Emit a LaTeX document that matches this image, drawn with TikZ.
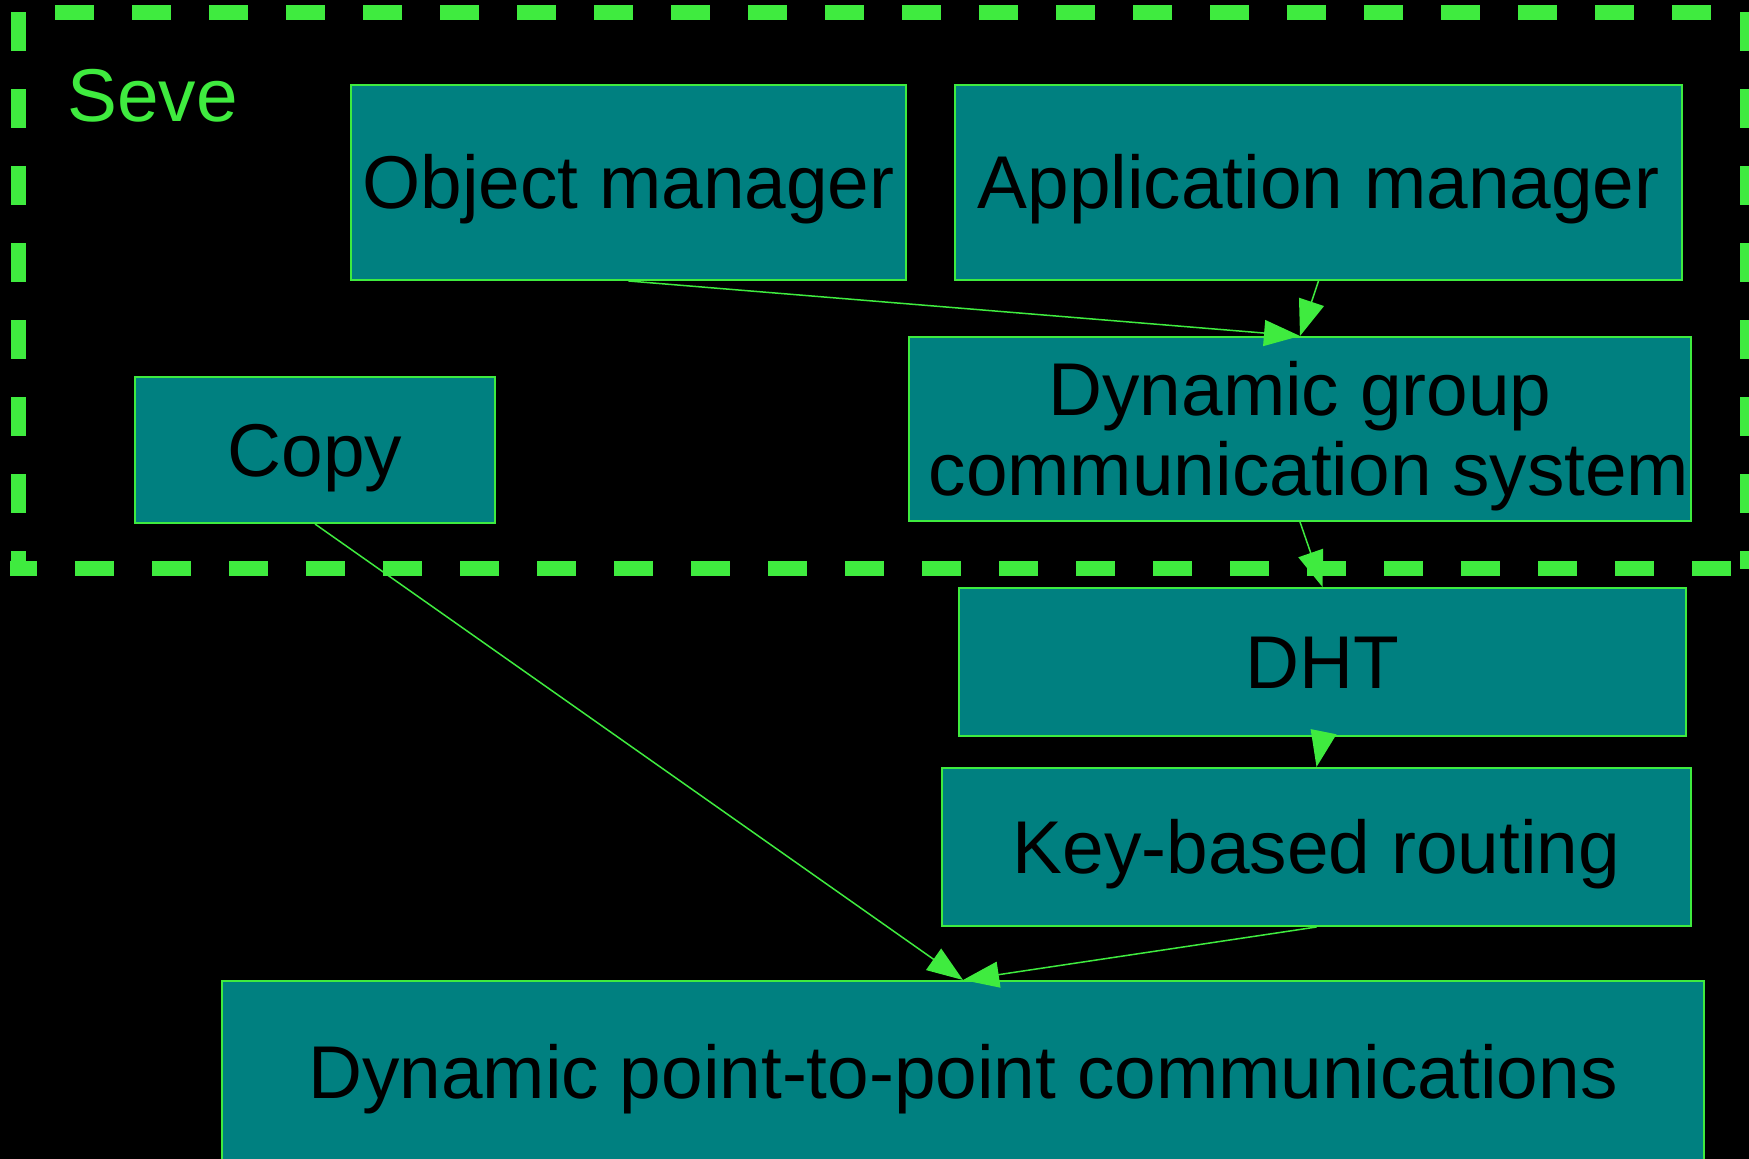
\documentclass[tikz,border=0pt]{standalone}
\usepackage{fontspec}
\setmainfont{Liberation Sans}
\usetikzlibrary{arrows.meta}
\definecolor{lime}{RGB}{63,235,63}
\definecolor{tealbox}{RGB}{0,128,128}

\begin{document}
\begin{tikzpicture}[x=0.5pt,y=-0.5pt,
  box/.style={draw=lime, line width=1pt, fill=tealbox, inner sep=0pt,
    text=black, font=\fontsize{37.4}{40}\selectfont, align=center,
    text height=26.2pt, text depth=0pt},
  link/.style={draw=lime, line width=0.75pt,
    -{Triangle[length=18pt,width=13pt,fill=lime]}},
  frame/.style={draw=lime, line width=7.5pt, dash pattern=on 19.5pt off 19pt}]

% canvas
\path[use as bounding box, clip] (0,0) rectangle (1749,1159);
\fill[black] (0,0) rectangle (1749,1159);

% dashed cluster outline
\draw[frame, dash phase=20pt] (18,12.5) -- (1747,12.5);
\draw[frame] (18,12.5) -- (18,569);
\draw[frame] (1747,12.5) -- (1747,569);
\draw[frame, dash phase=6pt] (10,569) -- (1747,569);

\node[anchor=base west, text=lime, inner sep=0pt, font=\fontsize{37.4}{40}\selectfont] (seve) at (67,122) {Seve};

% components
\node[box, minimum width=277.5pt, minimum height=97.5pt] (om) at (628.5,182.5) {Object manager};
\node[box, minimum width=363.5pt, minimum height=97.5pt] (am) at (1318.5,182.5) {Application manager};
\node[box, minimum width=391pt, minimum height=92pt, text height=66.2pt] (dgc) at (1300,429) {Dynamic group\\\kern9pt communication system};
\node[box, minimum width=180pt, minimum height=73pt] (copy) at (315,450) {Copy};
\node[box, minimum width=363.5pt, minimum height=74pt] (dht) at (1322.5,662) {DHT};
\node[box, minimum width=374.5pt, minimum height=79pt] (kbr) at (1316.5,847) {Key-based routing};
\node[box, minimum width=741pt, minimum height=91pt] (dpp) at (963,1072) {Dynamic point-to-point communications};

% dependencies
\draw[link] (om.south) -- (dgc.north);
\draw[link] (am.south) -- (dgc.north);
\draw[link] (dgc.south) -- (dht.north);
\draw[link] (dht.south) -- (kbr.north);
\draw[link] (kbr.south) -- (dpp.north);
\draw[link] (copy.south) -- (dpp.north);
\end{tikzpicture}
\end{document}
